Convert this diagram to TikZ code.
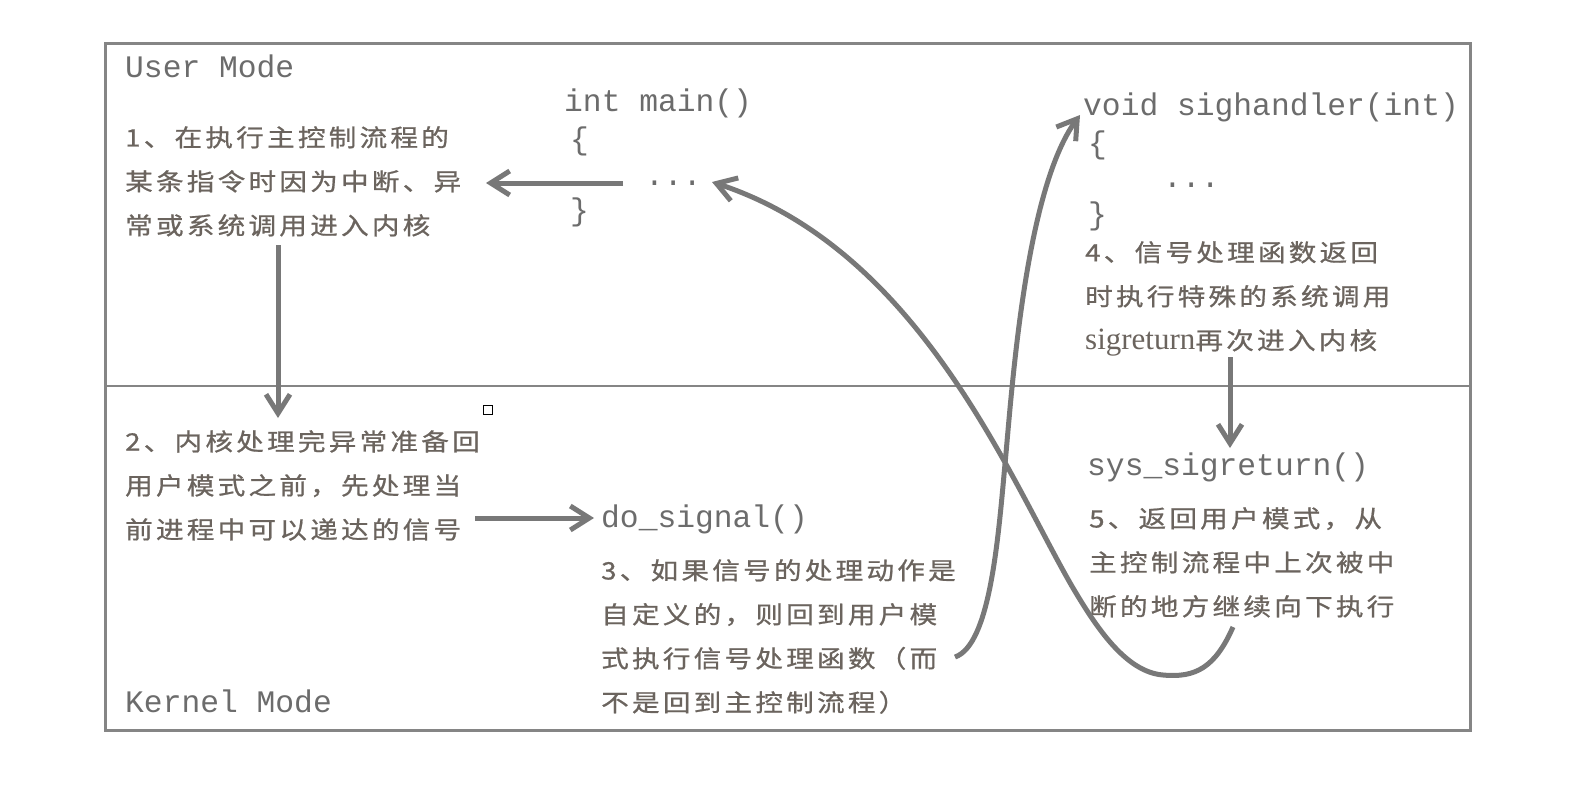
\documentclass[tikz,border=0pt]{standalone}
\usepackage{fontspec}
\setmainfont{Liberation Serif}
\newfontfamily\cjk[LetterSpace=13.5,FakeStretch=1.15,FakeBold=0.8]{Noto Sans CJK SC}
\newfontfamily\codefont{Liberation Mono}
\newfontfamily\latinserif{Liberation Serif}
\usetikzlibrary{arrows.meta}
\definecolor{boxgray}{HTML}{858585}
\definecolor{arrgray}{HTML}{787878}
\definecolor{txtgray}{HTML}{6B645E}
\definecolor{codegray}{HTML}{6C6C6C}
\tikzset{
  code/.style={anchor=west, inner sep=0pt, text=codegray, font=\codefont\fontsize{31.3}{36}\selectfont},
  cjktext/.style={anchor=north west, inner sep=0pt, align=left, text=txtgray, font=\cjk\fontsize{24}{44}\selectfont},
  flow/.style={draw=arrgray, line width=5pt, -{Straight Barb[length=19pt,width=24pt]}},
  frame/.style={draw=boxgray, line width=3pt},
  divider/.style={draw=boxgray, line width=2.5pt},
}
\begin{document}
\begin{tikzpicture}[x=1pt,y=-1pt]
\fill[white] (0,0) rectangle (1591,801);
\useasboundingbox (0,0) rectangle (1591,801);
% frame
\draw[frame] (105,43) rectangle (1470,730);
\draw[divider] (105,386) -- (1470,386);
% mode labels
\node[code] (user) at (125,66) {User Mode};
\node[code] (kernel) at (125,701) {Kernel Mode};
% main
\node[code] (main) at (564,103) {int main()};
\node[code] (mainob) at (570,141) {\{};
\node[code] (maindots) at (645,183) {...};
\node[code] (maincb) at (570,212) {\}};
% sighandler
\node[code] (sigh) at (1083,107) {void sighandler(int)};
\node[code] (sighob) at (1088,145) {\{};
\node[code] (sighdots) at (1163,185) {...};
\node[code] (sighcb) at (1088,216) {\}};
% kernel functions
\node[code] (dosig) at (601,519) {do\_signal()};
\node[code] (sysret) at (1087,467) {sys\_sigreturn()};
% explanations
\node[cjktext] (t1) at (125,126) {1、在执行主控制流程的\\某条指令时因为中断、异\\常或系统调用进入内核};
\node[cjktext] (t2) at (125,430) {2、内核处理完异常准备回\\用户模式之前，先处理当\\前进程中可以递达的信号};
\node[cjktext] (t3) at (601,559) {3、如果信号的处理动作是\\自定义的，则回到用户模\\式执行信号处理函数（而\\不是回到主控制流程）};
\node[cjktext] (t4) at (1085,241) {4、信号处理函数返回\\时执行特殊的系统调用\\{\latinserif\fontsize{31}{44}\selectfont sigreturn}再次进入内核};
\node[cjktext] (t5) at (1089,507) {5、返回用户模式，从\\主控制流程中上次被中\\断的地方继续向下执行};
% small square mark
\node[draw=black, line width=1.6pt, minimum size=9pt, inner sep=0pt] (mark) at (488,410) {};
% connector end points
\coordinate (a1s) at (623,183);
\coordinate (a1e) at (486,183);
\coordinate (a2s) at (278,245);
\coordinate (a2e) at (278,418);
\coordinate (a3s) at (475,518);
\coordinate (a3e) at (594,518);
\coordinate (a4s) at (1230,357);
\coordinate (a4e) at (1230,448);
\coordinate (c5s) at (955,657);
\coordinate (c5m) at (1005,464);
\coordinate (c5e) at (1080,115);
\coordinate (c6s) at (1233,627);
\coordinate (c6b) at (1163,675);
\coordinate (c6m) at (1073,588);
\coordinate (c6e) at (712,182);
% connectors
\draw[flow] (a1s) -- (a1e);
\draw[flow] (a2s) -- (a2e);
\draw[flow] (a3s) -- (a3e);
\draw[flow] (a4s) -- (a4e);
\draw[flow] (c5s) .. controls (990,645) and (998,540) .. (c5m)
                  .. controls (1012,390) and (1025,190) .. (c5e);
\draw[flow] (c6s) .. controls (1215,668) and (1195,678) .. (c6b)
                  .. controls (1125,672) and (1095,625) .. (c6m)
                  .. controls (1010,480) and (920,250) .. (c6e);
\end{tikzpicture}
\end{document}
